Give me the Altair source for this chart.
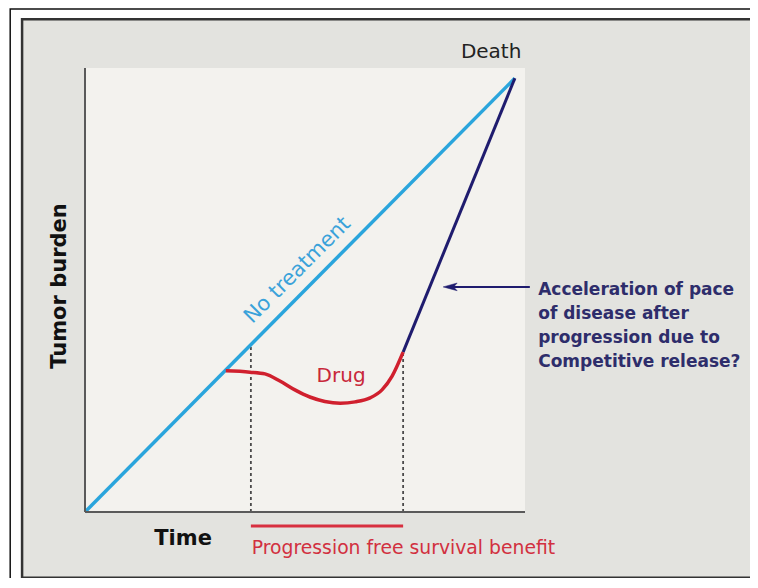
import altair as alt
import pandas as pd

# ---------------- data (time / tumour burden, arbitrary units 0-100) ----------------
no_treat_x = [0.0, 97.7]
no_treat_y = [0.0, 97.7]

drug_x = [32.0, 37.5, 40.9, 44.3, 47.7, 51.1, 54.5, 58.0, 61.4, 64.8, 67.5, 69.8, 72.3]
drug_y = [31.8, 31.5, 31.1, 29.5, 27.5, 25.9, 24.9, 24.5, 24.8, 25.7, 27.5, 30.6, 36.0]

relapse_x = [72.3, 97.7]
relapse_y = [36.0, 97.7]

pfs_x = [37.7, 72.3]      # start / end of progression-free survival benefit
pfs_top = [37.7, 36.0]    # burden at those times

# ---------------- colours / fonts ----------------
BLUE = "#2aa5dc"
NAVY = "#1f1c6e"
RED = "#d0202e"
FONT = "DejaVu Sans"

xs = alt.Scale(domain=[0, 100], nice=False, zero=False)
ys = alt.Scale(domain=[0, 100], nice=False, zero=False)


def XD(v):
    return alt.XDatum(v, type="quantitative", scale=xs, axis=None)


def YD(v):
    return alt.YDatum(v, type="quantitative", scale=ys, axis=None)


one = pd.DataFrame({"k": [0]})

# ---------------- frames ----------------
outer = alt.Chart(one).mark_rect(fill="white", stroke="#111", strokeWidth=1.5).encode(
    x=XD(-17.0), x2=alt.X2Datum(170), y=YD(113.3), y2=alt.Y2Datum(-30)
)
inner = alt.Chart(one).mark_rect(fill="#e3e3df", stroke="#333", strokeWidth=2.5).encode(
    x=XD(-14.3), x2=alt.X2Datum(165.0), y=YD(111.0), y2=alt.Y2Datum(-14.8)
)
plot_area = alt.Chart(one).mark_rect(fill="#f3f2ee").encode(
    x=XD(0), x2=alt.X2Datum(100), y=YD(0), y2=alt.Y2Datum(100),
)
axis_left = alt.Chart(one).mark_rule(color="#5a5a5a", strokeWidth=2).encode(
    x=XD(0), y=YD(0), y2=alt.Y2Datum(100)
)
axis_bottom = alt.Chart(one).mark_rule(color="#5a5a5a", strokeWidth=2).encode(
    y=YD(0), x=XD(0), x2=alt.X2Datum(100)
)

# ---------------- curves ----------------
df_nt = pd.DataFrame({"t": no_treat_x, "b": no_treat_y})
df_drug = pd.DataFrame({"t": drug_x, "b": drug_y})
df_rel = pd.DataFrame({"t": relapse_x, "b": relapse_y})
df_pfs = pd.DataFrame({"t": pfs_x, "top": pfs_top, "base": [0, 0]})

enc = dict(x=alt.X("t:Q", scale=xs, axis=None), y=alt.Y("b:Q", scale=ys, axis=None))

dashes = alt.Chart(df_pfs).mark_rule(color="#4a4a4a", strokeWidth=1.8, strokeDash=[3, 3]).encode(
    x=alt.X("t:Q", scale=xs, axis=None),
    y=alt.Y("base:Q", scale=ys, axis=None),
    y2="top:Q",
)
no_treat = alt.Chart(df_nt).mark_line(color=BLUE, strokeWidth=3.5).encode(**enc)
relapse = alt.Chart(df_rel).mark_line(color=NAVY, strokeWidth=3).encode(**enc)
drug = alt.Chart(df_drug).mark_line(color=RED, strokeWidth=3.5, interpolate="monotone").encode(**enc)

pfs_bar = alt.Chart(df_pfs).mark_line(color="#d83040", strokeWidth=3).encode(
    x=alt.X("t:Q", scale=xs, axis=None), y=YD(-3.15)
)

# arrow
arrow_line = alt.Chart(one).mark_rule(color=NAVY, strokeWidth=2).encode(
    x=XD(82.5), x2=alt.X2Datum(101.1), y=YD(50.7)
)
arrow_head = alt.Chart(one).mark_point(
    shape="M0,0 L2,-0.55 L1.5,0 L2,0.55 Z", filled=True, fill=NAVY, stroke=NAVY,
    strokeWidth=0.5, size=196, opacity=1,
).encode(x=XD(81.4), y=YD(50.7))


def label(text, x, y, **mk):
    return alt.Chart(one).mark_text(text=text, font=FONT, **mk).encode(x=XD(x), y=YD(y))


t_death = label("Death", 92.3, 103.65, fontSize=20, color="#222", align="center")
t_time = label("Time", 22.3, -6.15, fontSize=21, fontWeight="bold", color="#111", align="center")
t_tumor = label("Tumor burden", -5.7, 50.9, fontSize=21, fontWeight="bold", color="#111",
                align="center", baseline="middle", angle=270)
t_pfs = label("Progression free survival benefit", 37.9, -8.1, fontSize=18.8, color="#d23040",
              align="left")
t_drug = label("Drug", 58.2, 30.65, fontSize=20, color="#c8283a", align="center")
t_nt = label("No treatment", 51.4, 51.4, fontSize=21, color="#3aa2da", align="center",
             angle=315, dy=-19)
t_note = label("Acceleration of pace\nof disease after\nprogression due to\nCompetitive release?",
               103.0, 50.0, fontSize=17, fontWeight="bold", color="#2e2d6b", align="left",
               lineBreak="\n", lineHeight=24)

chart = alt.layer(
    outer, inner, plot_area, dashes, no_treat, relapse, drug, pfs_bar, axis_left, axis_bottom,
    arrow_line, arrow_head, t_death, t_time, t_tumor, t_pfs, t_drug, t_nt, t_note,
).properties(
    width=440, height=444,
    autosize=alt.AutoSizeParams(type="none"),
    padding={"left": 77, "top": 60, "right": 225, "bottom": 66},
    background="white",
).configure_view(stroke=None, fill=None)

chart.save("out.html", embed_options={"renderer": "svg", "actions": False})
